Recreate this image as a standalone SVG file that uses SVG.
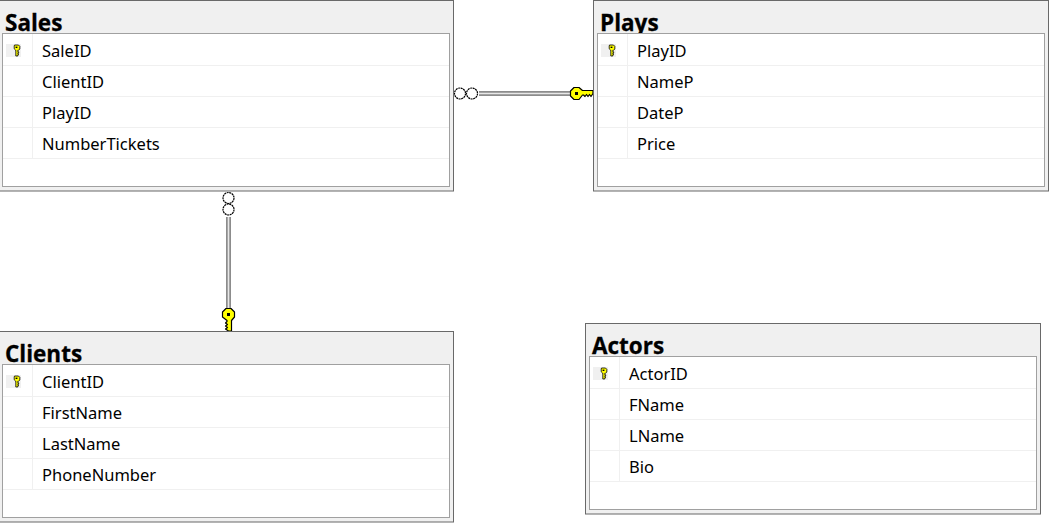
<svg xmlns="http://www.w3.org/2000/svg" xmlns:xlink="http://www.w3.org/1999/xlink" width="1053" height="524" viewBox="0 0 1053 524">
<style>
.outer{fill:#f0f0f0;stroke:#696969;stroke-width:1}
.inner{fill:#fff;stroke:#a0a0a0;stroke-width:1}
.grid{stroke:#f0f0f0;stroke-width:1;fill:none}
.sel{fill:#f0f0f0}
.title{font:bold 22.500px "Open Sans","Noto Sans",sans-serif;fill:#000;stroke:#000;stroke-width:.3}
.row{font:16.500px "Noto Sans","Open Sans",sans-serif;fill:#000}
.link1{stroke:#8c8c8c;stroke-width:5;fill:none}
.link2{stroke:#e8e8e8;stroke-width:1.600;fill:none}
.ring{fill:#fff;stroke:#000;stroke-width:1.200;stroke-dasharray:2 .6}
.key{fill:#ffff00;stroke:#000;stroke-width:1.200;stroke-linejoin:round}
</style>
<defs>
<rect id="tblOuter" class="outer" x="-1.500" y="0.500" width="455" height="190.500"/>
<g id="tblBody">
<rect class="inner" x="2.500" y="33.500" width="447" height="153"/>
<path class="grid" d="M3 65.500H449M3 96.500H449M3 127.500H449M3 158.500H449M32.500 34V158"/>
<rect class="sel" x="6" y="44" width="15" height="13"/>
<g transform="translate(16.500 50)">
<path d="M-2 -5h4l1.300 1.300v2.700l-1.300 1.300h-.7v1.500h.9v1h-.9v.9h.7v1h-.7v1.300h-2v-5.900h-.3l-1.300 -1.300v-2.700z" fill="#ffff00" stroke="#000" stroke-width=".8"/>
<rect x="-.9" y="-3.400" width="1.800" height="1.400" fill="#000"/>
</g>
</g>
<g id="bigkey">
<path class="key" d="M-2.500 -6H2.500L6 -3H16.500V0L14.500 3L13 1L11.500 3L10 1L8.500 3L7 1.500H6L2.500 6H-2.500L-6 2.500V-2.500Z"/>
<rect x="-1.500" y="-1.500" width="3" height="3" fill="#000"/>
</g>
</defs>
<g id="connectors">
<path class="link1" d="M479 93.500H570"/><path class="link2" d="M479 93.500H570"/>
<circle class="ring" cx="460" cy="93.500" r="5.500"/><circle class="ring" cx="472" cy="93.500" r="5.500"/>
<use xlink:href="#bigkey" href="#bigkey" transform="translate(576.500 93.500)"/>
<path class="link1" d="M228.500 217V308"/><path class="link2" d="M228.500 217V308"/>
<circle class="ring" cx="228.500" cy="198" r="5.500"/><circle class="ring" cx="228.500" cy="209.500" r="5.500"/>
<use xlink:href="#bigkey" href="#bigkey" transform="translate(228.500 314.500) rotate(90)"/>
</g>
<g id="sales">
<use xlink:href="#tblOuter" href="#tblOuter"/>
<text class="title" x="5" y="31">Sales</text>
<use xlink:href="#tblBody" href="#tblBody"/>
<text class="row" x="42" y="57">SaleID</text>
<text class="row" x="42" y="88">ClientID</text>
<text class="row" x="42" y="119">PlayID</text>
<text class="row" x="42" y="150">NumberTickets</text>
</g>
<g id="plays" transform="translate(595 0)">
<use xlink:href="#tblOuter" href="#tblOuter"/>
<text class="title" x="5" y="31">Plays</text>
<use xlink:href="#tblBody" href="#tblBody"/>
<text class="row" x="42" y="57">PlayID</text>
<text class="row" x="42" y="88">NameP</text>
<text class="row" x="42" y="119">DateP</text>
<text class="row" x="42" y="150">Price</text>
</g>
<g id="clients" transform="translate(0 331)">
<use xlink:href="#tblOuter" href="#tblOuter"/>
<text class="title" x="5" y="31">Clients</text>
<use xlink:href="#tblBody" href="#tblBody"/>
<text class="row" x="42" y="57">ClientID</text>
<text class="row" x="42" y="88">FirstName</text>
<text class="row" x="42" y="119">LastName</text>
<text class="row" x="42" y="150">PhoneNumber</text>
</g>
<g id="actors" transform="translate(587 323)">
<use xlink:href="#tblOuter" href="#tblOuter"/>
<text class="title" x="5" y="31">Actors</text>
<use xlink:href="#tblBody" href="#tblBody"/>
<text class="row" x="42" y="57">ActorID</text>
<text class="row" x="42" y="88">FName</text>
<text class="row" x="42" y="119">LName</text>
<text class="row" x="42" y="150">Bio</text>
</g>
</svg>
